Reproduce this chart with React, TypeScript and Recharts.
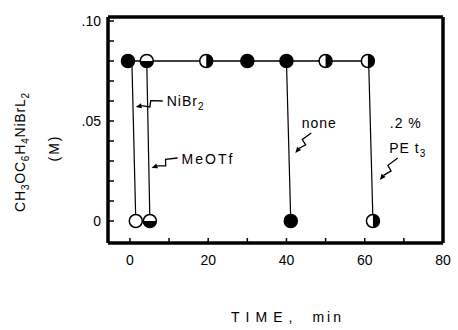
import { ComposedChart, Scatter, XAxis, YAxis, ReferenceDot } from "recharts"

// time axis (min) and concentration axis (M)
const timeTicks = [0, 10, 20, 30, 40, 50, 60, 70, 80]
const concTicks = [0, 0.01, 0.02, 0.03, 0.04, 0.05, 0.06, 0.07, 0.08, 0.09, 0.1]

// top row: all runs start at .08 M
const startConc = 0.08
const topTimes = [-0.5, 4.3, 19.5, 30, 40, 50, 60.8]
const topKinds = ["filled", "halfBottom", "halfRight", "filled", "filled", "halfRight", "halfRight"]

// drops to zero after an addition
const dropFrom = [0.5, 4.3, 40, 61]
const dropTo = [1.5, 5.1, 41.1, 62.1]
const dropKinds = ["open", "halfBottom", "filled", "halfRight"]
const dropNames = ["NiBr2", "MeOTf", "none", ".2% PEt3"]

const topRow = topTimes.map((t, i) => ({ t, c: startConc, kind: topKinds[i] }))
const bottomRow = dropTo.map((t, i) => ({ t, c: 0, kind: dropKinds[i] }))
const drops = dropFrom.map((t, i) => [
  { t, c: startConc },
  { t: dropTo[i], c: 0 },
])

const FONT = "'Liberation Sans', Arial, sans-serif"
const R = 6.5

function Marker(props: any) {
  const { cx, cy, payload } = props
  if (cx == null || cy == null) return <g />
  const kind = payload?.kind
  if (kind === "filled") {
    return <circle cx={cx} cy={cy} r={R} fill="#000" stroke="#000" strokeWidth={1.5} />
  }
  let half = null
  if (kind === "halfBottom") {
    half = <path d={`M${cx - R},${cy} A${R},${R} 0 0 0 ${cx + R},${cy} Z`} fill="#000" />
  } else if (kind === "halfRight") {
    half = <path d={`M${cx},${cy - R} A${R},${R} 0 0 1 ${cx},${cy + R} Z`} fill="#000" />
  }
  return (
    <g>
      <circle cx={cx} cy={cy} r={R} fill="#fff" stroke="#000" strokeWidth={1.5} />
      {half}
    </g>
  )
}

const NoDot = () => <g />

// little lightning-bolt arrow, from (x0,y0) to (x1,y1)
function zigArrow(x0: number, y0: number, x1: number, y1: number) {
  const dx = x1 - x0
  const dy = y1 - y0
  const len = Math.hypot(dx, dy)
  const ux = dx / len
  const uy = dy / len
  const px = -uy * 3
  const py = ux * 3
  const a = [x0 + dx * 0.42 + px, y0 + dy * 0.42 + py]
  const b = [x0 + dx * 0.5 - px, y0 + dy * 0.5 - py]
  const hx = x1 - ux * 6
  const hy = y1 - uy * 6
  return (
    <g>
      <path
        d={`M${x0},${y0} L${a[0]},${a[1]} L${b[0]},${b[1]} L${hx},${hy}`}
        fill="none"
        stroke="#000"
        strokeWidth={1.3}
      />
      <path
        d={`M${x1},${y1} L${hx - uy * 2.5},${hy + ux * 2.5} L${hx + uy * 2.5},${hy - ux * 2.5} Z`}
        fill="#000"
      />
    </g>
  )
}

const noteText = { fontFamily: FONT, fontSize: 14, fill: "#000" }

function NoteNiBr(props: any) {
  const { cx, cy } = props
  return (
    <g>
      <text x={cx} y={cy + 5} {...noteText} letterSpacing={1}>
        <tspan>NiBr</tspan>
        <tspan dy={4} fontSize={10}>2</tspan>
      </text>
      {zigArrow(cx - 4, cy, cx - 31, cy + 6)}
    </g>
  )
}

function NoteMeOTf(props: any) {
  const { cx, cy } = props
  return (
    <g>
      <text x={cx} y={cy + 5} {...noteText} letterSpacing={2}>
        {dropNames[1]}
      </text>
      {zigArrow(cx - 4, cy - 1, cx - 30, cy + 9)}
    </g>
  )
}

function NoteNone(props: any) {
  const { cx, cy } = props
  return (
    <g>
      <text x={cx} y={cy + 5} textAnchor="middle" {...noteText} letterSpacing={1}>
        {dropNames[2]}
      </text>
      {zigArrow(cx - 8, cy + 10, cx - 24, cy + 30)}
    </g>
  )
}

function NotePEt(props: any) {
  const { cx, cy } = props
  return (
    <g>
      <text x={cx - 2} y={cy - 20} textAnchor="middle" {...noteText} letterSpacing={1}>
        .2 %
      </text>
      <text x={cx} y={cy + 5} textAnchor="middle" {...noteText} letterSpacing={1}>
        <tspan>PE t</tspan>
        <tspan dy={4} fontSize={10}>3</tspan>
      </text>
      {zigArrow(cx - 10, cy + 10, cx - 28, cy + 32)}
    </g>
  )
}

function YTitle(props: any) {
  const vb = props.viewBox || {}
  const cy = vb.y + vb.height / 2 + 22
  const x1 = 25
  const x2 = 59
  const sub = { dy: 4, fontSize: 10 }
  const back = { dy: -4, fontSize: 14 }
  return (
    <g fontFamily={FONT} fill="#000">
      <text
        x={x1}
        y={cy}
        fontSize={14}
        textAnchor="middle"
        letterSpacing={0.8}
        transform={`rotate(-90 ${x1} ${cy})`}
      >
        <tspan>CH</tspan>
        <tspan {...sub}>3</tspan>
        <tspan {...back}>OC</tspan>
        <tspan {...sub}>6</tspan>
        <tspan {...back}>H</tspan>
        <tspan {...sub}>4</tspan>
        <tspan {...back}>NiBrL</tspan>
        <tspan {...sub}>2</tspan>
      </text>
      <text
        x={x2}
        y={cy - 4}
        fontSize={14}
        textAnchor="middle"
        letterSpacing={2}
        transform={`rotate(-90 ${x2} ${cy - 4})`}
      >
        (M)
      </text>
    </g>
  )
}

function XTitle(props: any) {
  const vb = props.viewBox || {}
  const x = vb.x + vb.width / 2 + 12
  return (
    <text x={x} y={322} textAnchor="middle" fontFamily={FONT} fontSize={14} fill="#000">
      <tspan letterSpacing={6}>TIME,</tspan>
      <tspan dx={14} letterSpacing={3}>min</tspan>
    </text>
  )
}

const fmtConc = (v: number) => {
  if (Math.abs(v) < 1e-9) return "0"
  if (Math.abs(v - 0.05) < 1e-9) return ".05"
  if (Math.abs(v - 0.1) < 1e-9) return ".10"
  return ""
}
const fmtTime = (v: number) => (v % 20 === 0 ? String(v) : "")

const axisLine = { stroke: "#000", strokeWidth: 3.5 }
const tickLine = { stroke: "#000", strokeWidth: 1.5 }
const tickFont = { fontFamily: FONT, fontSize: 14, fill: "#000" }

export default function App() {
  return (
    <div style={{ position: "absolute", left: 0, top: 0, background: "#fff" }}>
      <ComposedChart width={458} height={330} margin={{ top: 16, right: 14, bottom: 57, left: 0 }}>
        <XAxis
          xAxisId="b"
          dataKey="t"
          type="number"
          domain={[-5.6, 80]}
          allowDataOverflow
          ticks={timeTicks}
          interval={0}
          tickFormatter={fmtTime}
          height={30}
          axisLine={axisLine}
          tickLine={tickLine}
          tickSize={-5}
          tickMargin={17}
          tick={tickFont}
          label={{ content: XTitle }}
        />
        <XAxis
          xAxisId="top"
          dataKey="t"
          orientation="top"
          type="number"
          domain={[-5.6, 80]}
          allowDataOverflow
          ticks={timeTicks}
          interval={0}
          height={1}
          axisLine={axisLine}
          tickLine={tickLine}
          tickSize={-5}
          tick={false}
        />
        <YAxis
          yAxisId="l"
          dataKey="c"
          type="number"
          domain={[-0.011, 0.102]}
          allowDataOverflow
          ticks={concTicks}
          interval={0}
          tickFormatter={fmtConc}
          width={108}
          axisLine={axisLine}
          tickLine={tickLine}
          tickSize={-6}
          tickMargin={13}
          tick={tickFont}
          label={{ content: YTitle }}
        />
        <YAxis
          yAxisId="r"
          dataKey="c"
          orientation="right"
          type="number"
          domain={[-0.011, 0.102]}
          allowDataOverflow
          ticks={concTicks}
          interval={0}
          width={1}
          axisLine={axisLine}
          tickLine={tickLine}
          tickSize={-6}
          tick={false}
        />
        {/* invisible copy so the top and right frame axes have a series */}
        <Scatter
          xAxisId="top"
          yAxisId="r"
          data={topRow}
          dataKey="c"
          shape={NoDot}
          isAnimationActive={false}
        />
        {drops.map((d, i) => (
          <Scatter
            key={dropNames[i]}
            xAxisId="b"
            yAxisId="l"
            data={d}
            dataKey="c"
            line={{ stroke: "#000", strokeWidth: 1.2 }}
            shape={NoDot}
            isAnimationActive={false}
          />
        ))}
        <Scatter
          xAxisId="b"
          yAxisId="l"
          data={topRow}
          dataKey="c"
          line={{ stroke: "#000", strokeWidth: 1.5 }}
          shape={Marker}
          isAnimationActive={false}
        />
        <Scatter
          xAxisId="b"
          yAxisId="l"
          data={bottomRow}
          dataKey="c"
          shape={Marker}
          isAnimationActive={false}
        />
        <ReferenceDot xAxisId="b" yAxisId="l" x={9.4} y={0.06} r={0} shape={NoteNiBr} />
        <ReferenceDot xAxisId="b" yAxisId="l" x={13.2} y={0.031} r={0} shape={NoteMeOTf} />
        <ReferenceDot xAxisId="b" yAxisId="l" x={48.4} y={0.049} r={0} shape={NoteNone} />
        <ReferenceDot xAxisId="b" yAxisId="l" x={71} y={0.0365} r={0} shape={NotePEt} />
      </ComposedChart>
    </div>
  )
}
